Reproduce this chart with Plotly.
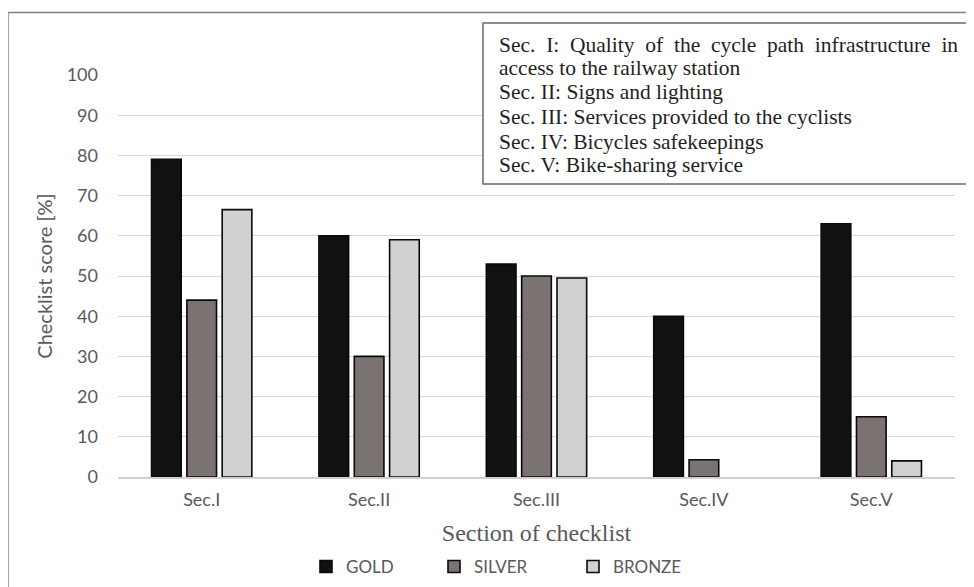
import plotly.graph_objects as go

categories = ["Sec.I", "Sec.II", "Sec.III", "Sec.IV", "Sec.V"]
gold = [79, 60, 53, 40, 63]
silver = [44, 30, 50, 4.3, 15]
bronze = [66.5, 59, 49.5, None, 4]
series_names = ["GOLD", "SILVER", "BRONZE"]
series_colors = ["#111111", "#7a7372", "#d2d1cf"]
y_ticks = [0, 10, 20, 30, 40, 50, 60, 70, 80, 90, 100]
box_lines = [
    "Sec.\u00a0 I:\u00a0 Quality\u00a0 of\u00a0 the\u00a0 cycle\u00a0 path\u00a0 infrastructure\u00a0 in",
    "access to the railway station",
    "Sec. II: Signs and lighting",
    "Sec. III: Services provided to the cyclists",
    "Sec. IV: Bicycles safekeepings",
    "Sec. V: Bike-sharing service",
]

# page offset (browser default body margin)
OX, OY = 8, 8
W, H = 974 - OX, 587 - OY
# plot area in screen pixels
SL, SR, ST, SB = 118, 955, 75, 477
L, T = SL - OX, ST - OY
R, B = W - (SR - OX), H - (SB - OY)
PW, PH = W - L - R, H - T - B


def px_x(sx):
    return (sx - SL) / PW


def px_y(sy):
    return (SB - sy) / PH


fig = go.Figure()
legend_ids = ["legend", "legend2", "legend3"]
for name, vals, col, lg in zip(series_names, [gold, silver, bronze], series_colors, legend_ids):
    fig.add_trace(go.Bar(
        x=categories, y=vals, name=name, legend=lg,
        marker=dict(color=col, line=dict(color="#0a0a0a", width=1.6)),
    ))

sans = "Lato, 'Open Sans', sans-serif"
serif = "'Liberation Serif', 'DejaVu Serif', serif"

legend_x_px = [306, 434, 573]
leg_common = dict(orientation="h", yanchor="middle", xanchor="left",
                  font=dict(family=sans, size=17, color="#595959"),
                  itemwidth=30, bgcolor="rgba(0,0,0,0)", tracegroupgap=0)
layout_legends = {}
for lg, xp in zip(legend_ids, legend_x_px):
    layout_legends[lg] = dict(x=px_x(xp), y=px_y(567), **leg_common)

fig.update_layout(
    width=W, height=H,
    margin=dict(l=L, r=R, t=T, b=B, autoexpand=False),
    paper_bgcolor="white", plot_bgcolor="white",
    barmode="group", bargap=0.367, bargroupgap=0.16,
    showlegend=True,
    **layout_legends,
)

fig.update_yaxes(
    range=[0, 100], tickvals=y_ticks, showgrid=True, gridcolor="#d9d9d9", gridwidth=1,
    zeroline=False, showline=False, ticks="", ticklabelstandoff=19,
    tickfont=dict(family=sans, size=18, color="#595959"),
    title=dict(text="Checklist score [%]", standoff=8,
               font=dict(family=sans, size=20, color="#595959")),
    automargin=False,
)
fig.update_xaxes(
    showgrid=False, showline=True, linecolor="#d0d0d0", linewidth=1.5, ticks="",
    ticklabelstandoff=6,
    tickfont=dict(family=sans, size=18, color="#595959"),
    title=dict(text="Section of checklist", standoff=15,
               font=dict(family=serif, size=24, color="#595959")),
    automargin=False,
)

# outer frame (top and left)
fig.add_shape(type="line", xref="paper", yref="paper", x0=px_x(8), x1=px_x(990),
              y0=px_y(12.5), y1=px_y(12.5), line=dict(color="#7f7f7f", width=1.5))
fig.add_shape(type="line", xref="paper", yref="paper", x0=px_x(8.5), x1=px_x(8.5),
              y0=px_y(12.5), y1=px_y(600), line=dict(color="#a6a6a6", width=1.2))
# description box
fig.add_shape(type="rect", xref="paper", yref="paper", x0=px_x(483), x1=px_x(972),
              y0=px_y(184), y1=px_y(23), fillcolor="white",
              line=dict(color="#6b6b6b", width=1.5), layer="above")
line_y_px = [45, 68.5, 92, 117, 141.5, 165]
for txt, yp in zip(box_lines, line_y_px):
    fig.add_annotation(xref="paper", yref="paper", x=px_x(497), y=px_y(yp),
                       xanchor="left", yanchor="middle", showarrow=False, text=txt,
                       font=dict(family=serif, size=21.5, color="#1f1f1f"))

fig.write_html("out.html")
